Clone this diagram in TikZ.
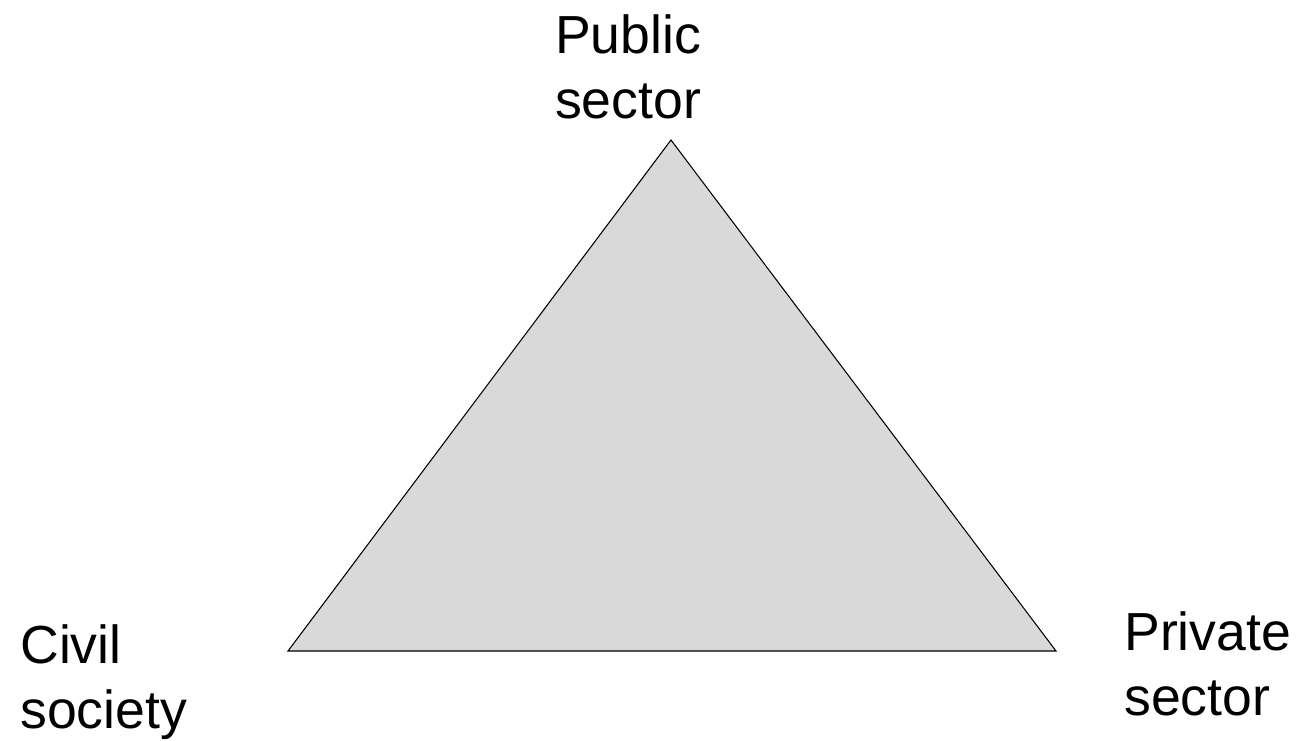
\documentclass[tikz,border=0pt]{standalone}
\usepackage{fontspec}
\setmainfont{Liberation Sans}
\begin{document}
\begin{tikzpicture}[x=0.02cm,y=-0.02cm,
    sectorlabel/.style={inner sep=0pt,font=\fontsize{30.5}{37}\selectfont}]

    \useasboundingbox (0,0) rectangle (1297,740);

    % corners of the triangle
    \coordinate (pub)  at ( 671,140);
    \coordinate (civ)  at ( 288,651);
    \coordinate (priv) at (1056,651);

    \filldraw[fill=black!15,draw=black,line width=0.6pt]
    (pub) -- (priv) -- (civ) -- cycle;

    \node[sectorlabel,align=center] (publab) at (628,67) {Public\\sector};
    \node[sectorlabel,align=left,anchor=west] (civlab) at (20,682) {Civil\\society};
    \node[sectorlabel,align=left,anchor=west] (privlab) at (1124,664) {Private\\sector};

\end{tikzpicture}
\end{document}
